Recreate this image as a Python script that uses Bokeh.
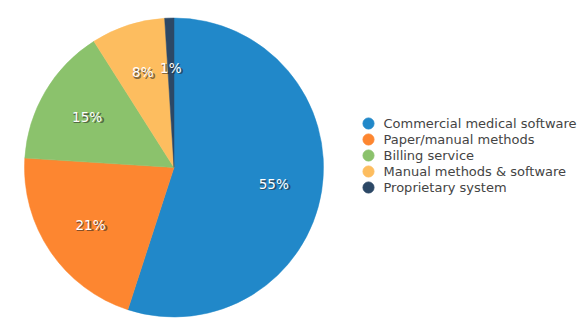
import math
from bokeh.plotting import figure
from bokeh.models import Range1d, ColumnDataSource
from bokeh.core.properties import value
from bokeh.embed import file_html
from bokeh.resources import INLINE

categories = ["Commercial medical software", "Paper/manual methods", "Billing service",
              "Manual methods & software", "Proprietary system"]
shares = [55, 21, 15, 8, 1]
colors = ["#2188c9", "#fd8630", "#8bc26c", "#fdbd5f", "#2c4866"]

W, H = 580, 334
cx, cy, R = 173.5, 167.0, 149.5
label_r = 101.0

total = float(sum(shares))
starts, ends, lx, ly, labels = [], [], [], [], []
cum = 0.0
for s in shares:
    a0 = math.pi / 2 - 2 * math.pi * cum / total
    a1 = math.pi / 2 - 2 * math.pi * (cum + s) / total
    starts.append(a0)
    ends.append(a1)
    mid = (a0 + a1) / 2
    lx.append(cx + label_r * math.cos(mid))
    ly.append(cy + label_r * math.sin(mid))
    labels.append(f"{s}%")
    cum += s

src = ColumnDataSource(dict(start=starts, end=ends, color=colors, lx=lx, ly=ly,
                            label=labels, cat=categories))

p = figure(width=W, height=H, output_backend="svg", toolbar_location=None,
           x_range=Range1d(0, W), y_range=Range1d(0, H), min_border=0)
p.axis.visible = False
p.grid.visible = False
p.outline_line_color = None
p.background_fill_color = "white"

p.wedge(x=cx, y=cy, radius=R, start_angle="start", end_angle="end", direction="clock",
        fill_color="color", line_color="color", line_width=0.5, source=src)

# label shadow then label
p.text(x="lx", y="ly", text="label", source=src, x_offset=1.2, y_offset=2.2,
       text_align="center", text_baseline="middle", text_color="#222222", text_alpha=0.55,
       text_font=value("DejaVu Sans"), text_font_size="13.5px", text_font_style="bold")
p.text(x="lx", y="ly", text="label", source=src, x_offset=0, y_offset=1,
       text_align="center", text_baseline="middle", text_color="white",
       text_font=value("DejaVu Sans"), text_font_size="13.5px")

# legend
leg_x = [368.0] * len(categories)
leg_y = [H - (123.0 + 16.0 * i) for i in range(len(categories))]
leg_tx = [383.0] * len(categories)
lsrc = ColumnDataSource(dict(x=leg_x, y=leg_y, tx=leg_tx, cat=categories, color=colors))
p.scatter(x="x", y="y", size=11, marker="circle", fill_color="color", line_color="color", source=lsrc)
p.text(x="tx", y="y", text="cat", source=lsrc, text_align="left", text_baseline="middle",
       text_color="#444444", text_font=value("DejaVu Sans"), text_font_size="13px")

open("out.html", "w").write(file_html(p, INLINE))
